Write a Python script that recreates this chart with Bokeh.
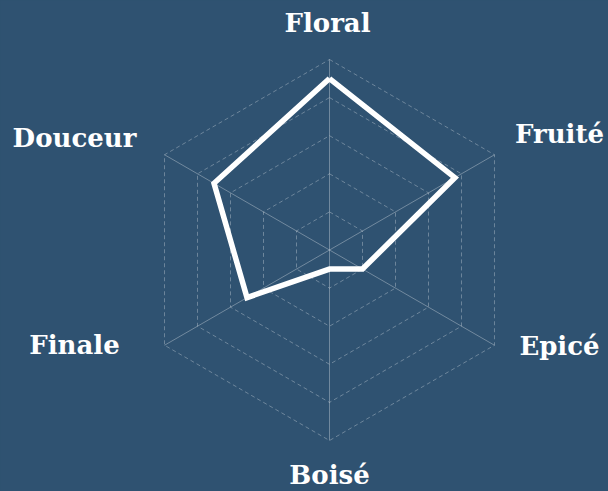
import numpy as np
from bokeh.plotting import figure
from bokeh.models import ColumnDataSource, Range1d
from bokeh.embed import file_html
from bokeh.resources import INLINE
from bokeh.core.properties import value

# ---- data ----
categories = ["Floral", "Fruité", "Epicé", "Boisé", "Finale", "Douceur"]
scores = [4.5, 3.8, 1.0, 0.5, 2.5, 3.5]
levels = [1, 2, 3, 4, 5]

BG = "#2f5271"
W, H = 608, 491
unit = 38.1            # pixels per score unit
cx, cy = 329, 249.5    # chart centre in page pixels

n = len(categories)
angles = np.pi / 2 - np.arange(n) * 2 * np.pi / n   # clockwise from top

p = figure(width=W, height=H, output_backend="svg", toolbar_location=None,
           x_range=Range1d(-cx / unit, (W - cx) / unit),
           y_range=Range1d(-(H - cy) / unit, cy / unit),
           min_border=0, min_border_left=0, min_border_right=0,
           min_border_top=0, min_border_bottom=0)
p.axis.visible = False
p.grid.visible = False
p.outline_line_color = None
p.background_fill_color = BG
p.border_fill_color = BG

grid_col = "white"

# dashed hexagon rings
ring_xs, ring_ys = [], []
for lv in levels:
    xs = [lv * np.cos(a) for a in angles] + [lv * np.cos(angles[0])]
    ys = [lv * np.sin(a) for a in angles] + [lv * np.sin(angles[0])]
    ring_xs.append(xs)
    ring_ys.append(ys)
p.multi_line(ring_xs, ring_ys, line_color=grid_col, line_alpha=0.3,
             line_width=1, line_dash="4 3")

# solid spokes
mx = max(levels)
p.multi_line([[0, mx * np.cos(a)] for a in angles],
             [[0, mx * np.sin(a)] for a in angles],
             line_color=grid_col, line_alpha=0.32, line_width=1)

# data polygon
px = [s * np.cos(a) for s, a in zip(scores, angles)]
py = [s * np.sin(a) for s, a in zip(scores, angles)]
p.line(px + [px[0]], py + [py[0]], line_color="white", line_width=5.5,
       line_join="miter")

# labels (centre x, vertical middle in page pixels relative to chart centre)
label_off = {
    "Floral": (-2, -227.5),
    "Fruité": (230, -116.5),
    "Epicé": (230, 95.5),
    "Boisé": (0, 224.5),
    "Finale": (-255, 94.5),
    "Douceur": (-255, -112.5),
}
lx = [label_off[c][0] / unit for c in categories]
ly = [-label_off[c][1] / unit for c in categories]
src = ColumnDataSource(dict(x=lx, y=ly, t=categories))
p.text(x="x", y="y", text="t", source=src, text_color="white",
       text_font=value("DejaVu Serif"), text_font_style="bold",
       text_font_size="26px", text_align="center",
       text_baseline="middle")

html = file_html(p, INLINE)
html = html.replace("</head>",
                    "<style>html,body{margin:0;padding:0;background:%s;overflow:hidden}</style></head>" % BG, 1)
open("out.html", "w").write(html)
